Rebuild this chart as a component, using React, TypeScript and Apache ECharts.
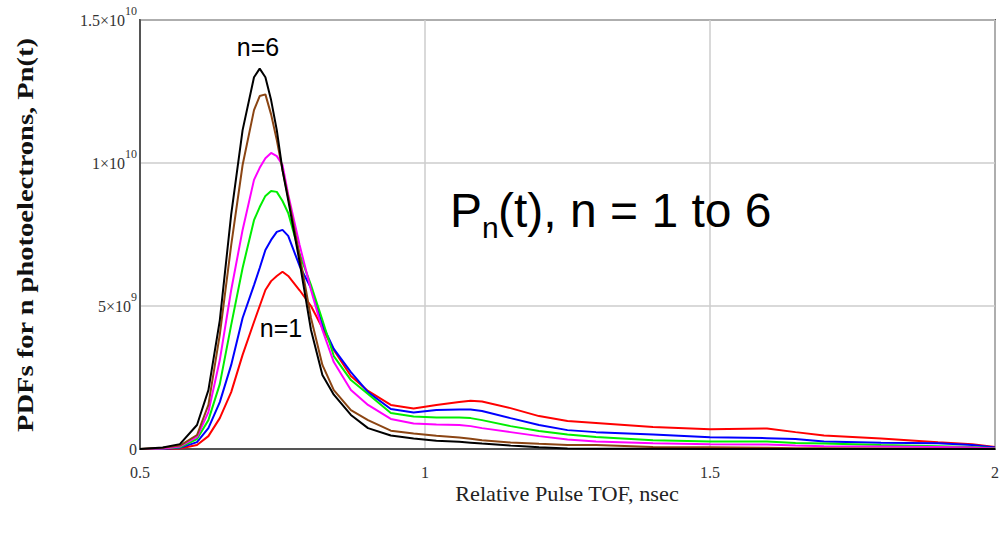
import React, { useEffect, useRef } from "react";
import * as echarts from "echarts";

const UNIT = 1e9;

// Relative pulse TOF (nsec)
const tof = [0.5, 0.54, 0.57, 0.6, 0.62, 0.64, 0.66, 0.68, 0.7, 0.71, 0.72, 0.73, 0.74, 0.75, 0.76, 0.78, 0.8, 0.82, 0.84, 0.87, 0.9, 0.94, 0.98, 1.02, 1.06, 1.08, 1.1, 1.15, 1.2, 1.25, 1.3, 1.4, 1.5, 1.6, 1.65, 1.7, 1.8, 1.9, 1.96, 2.0];

// PDFs in units of 1e9
const pdfN1 = [0, 0.01, 0.02, 0.14, 0.45, 1.08, 1.99, 3.29, 4.44, 5.0, 5.56, 5.87, 6.05, 6.2, 6.05, 5.55, 5.0, 4.23, 3.46, 2.55, 2.03, 1.54, 1.42, 1.54, 1.64, 1.69, 1.66, 1.43, 1.15, 0.98, 0.91, 0.77, 0.69, 0.72, 0.59, 0.47, 0.37, 0.24, 0.17, 0.07];
const pdfN2 = [0, 0.01, 0.04, 0.24, 0.73, 1.64, 2.94, 4.58, 5.73, 6.33, 6.96, 7.31, 7.59, 7.66, 7.45, 6.4, 5.63, 4.34, 3.5, 2.69, 1.99, 1.4, 1.28, 1.36, 1.38, 1.38, 1.33, 1.08, 0.84, 0.66, 0.59, 0.51, 0.41, 0.38, 0.35, 0.26, 0.22, 0.2, 0.14, 0.05];
const pdfN3 = [0, 0.02, 0.06, 0.35, 1.01, 2.27, 4.34, 6.33, 8.0, 8.46, 8.85, 9.02, 8.99, 8.67, 8.25, 6.82, 5.73, 4.51, 3.25, 2.41, 1.92, 1.26, 1.14, 1.1, 1.1, 1.08, 1.01, 0.8, 0.63, 0.51, 0.42, 0.31, 0.26, 0.26, 0.21, 0.19, 0.14, 0.1, 0.07, 0.03];
const pdfN4 = [0, 0.02, 0.09, 0.42, 1.29, 3.11, 5.56, 7.66, 9.41, 9.83, 10.17, 10.35, 10.24, 9.93, 8.9, 7.13, 5.56, 4.16, 3.04, 2.06, 1.54, 1.05, 0.89, 0.86, 0.84, 0.8, 0.73, 0.59, 0.45, 0.33, 0.26, 0.2, 0.17, 0.16, 0.12, 0.1, 0.09, 0.07, 0.05, 0.02];
const pdfN5 = [0, 0.04, 0.12, 0.49, 1.54, 4.0, 7.13, 9.93, 11.85, 12.34, 12.4, 11.7, 10.8, 9.75, 8.8, 6.78, 4.58, 2.94, 2.06, 1.36, 1.01, 0.64, 0.54, 0.46, 0.4, 0.36, 0.31, 0.23, 0.18, 0.14, 0.14, 0.07, 0.06, 0.04, 0.03, 0.03, 0.02, 0.01, 0.01, 0];
const pdfN6 = [0, 0.05, 0.17, 0.84, 2.06, 4.5, 8.2, 11.15, 13.0, 13.3, 13.0, 12.2, 11.15, 9.75, 8.7, 6.54, 4.16, 2.59, 1.9, 1.19, 0.73, 0.47, 0.37, 0.29, 0.25, 0.22, 0.19, 0.12, 0.06, 0.02, 0.01, 0.01, 0, 0, 0, 0, 0, 0, 0, 0];

const seriesNames = ["n=1", "n=2", "n=3", "n=4", "n=5", "n=6"];
const seriesValues = [pdfN1, pdfN2, pdfN3, pdfN4, pdfN5, pdfN6];
const seriesColors = ["#ff0000", "#0000ff", "#00ee00", "#ff00ff", "#8b4513", "#000000"];

const xTickValues = [0.5, 1, 1.5, 2];
const xTickLabels = ["0.5", "1", "1.5", "2"];
const yTickValues = [0, 5e9, 1e10, 1.5e10];
const yTickBase = ["0", "5×10", "1×10", "1.5×10"];
const yTickExp = ["", "9", "10", "10"];

const SERIF = "'Liberation Serif', 'Times New Roman', serif";
const SANS = "'Liberation Sans', Arial, sans-serif";

export default function App() {
  const ref = useRef<HTMLDivElement>(null);

  useEffect(() => {
    document.body.style.margin = "0";
    if (!ref.current) return;
    const chart = echarts.init(ref.current, undefined, { renderer: "svg" });

    const series = seriesValues.map((vals, i) => ({
      name: seriesNames[i],
      type: "line",
      data: tof.map((x, j) => [x, vals[j] * UNIT]),
      showSymbol: false,
      symbol: "none",
      lineStyle: { color: seriesColors[i], width: 2 },
      itemStyle: { color: seriesColors[i] },
      z: 2 + i,
    }));

    chart.setOption({
      animation: false,
      backgroundColor: "#ffffff",
      grid: {
        left: 140,
        right: 12,
        top: 20,
        bottom: 88,
        show: true,
        borderColor: "#555555",
        borderWidth: 2,
      },
      xAxis: {
        type: "value",
        min: 0.5,
        max: 2,
        interval: 0.5,
        axisLine: { show: true, onZero: false, lineStyle: { color: "#555555", width: 2 } },
        axisTick: { show: false },
        splitLine: { show: true, lineStyle: { color: "#cccccc", width: 1.5 } },
        axisLabel: {
          margin: 15,
          color: "#333333",
          fontFamily: SERIF,
          fontSize: 16,
          formatter: (v: number) => {
            const i = xTickValues.findIndex((t) => Math.abs(t - v) < 1e-9);
            return i >= 0 ? xTickLabels[i] : "";
          },
        },
      },
      yAxis: {
        type: "value",
        min: 0,
        max: 1.5e10,
        interval: 5e9,
        axisLine: { show: true, onZero: false, lineStyle: { color: "#555555", width: 2 } },
        axisTick: { show: false },
        splitLine: { show: true, lineStyle: { color: "#cccccc", width: 1.5 } },
        axisLabel: {
          margin: 3,
          color: "#333333",
          fontFamily: SERIF,
          fontSize: 16,
          formatter: (v: number) => {
            const i = yTickValues.findIndex((t) => Math.abs(t - v) < 1);
            if (i < 0) return "";
            return yTickExp[i] ? `{m|${yTickBase[i]}}{s|${yTickExp[i]}}` : `{m|${yTickBase[i]}}`;
          },
          rich: {
            m: { fontSize: 16, lineHeight: 34, fontFamily: SERIF, color: "#333333" },
            s: { fontSize: 12, lineHeight: 14, verticalAlign: "top", fontFamily: SERIF, color: "#333333", padding: [2, 0, 0, 0] },
          },
        },
      },
      series,
      graphic: [
        {
          type: "text",
          x: 258,
          y: 47,
          z: 100,
          style: { text: "n=6", fontSize: 25, fontFamily: SANS, fill: "#000", align: "center", verticalAlign: "middle" },
        },
        {
          type: "text",
          x: 281,
          y: 328,
          z: 100,
          style: { text: "n=1", fontSize: 25, fontFamily: SANS, fill: "#000", align: "center", verticalAlign: "middle" },
        },
        {
          type: "text",
          x: 450,
          y: 210,
          z: 100,
          style: { text: "P", fontSize: 48, fontFamily: SANS, fill: "#000", align: "left", verticalAlign: "middle" },
        },
        {
          type: "text",
          x: 482,
          y: 227,
          z: 100,
          style: { text: "n", fontSize: 30, fontFamily: SANS, fill: "#000", align: "left", verticalAlign: "middle" },
        },
        {
          type: "text",
          x: 498,
          y: 210,
          z: 100,
          style: { text: "(t), n = 1 to 6", fontSize: 48, fontFamily: SANS, fill: "#000", align: "left", verticalAlign: "middle" },
        },
        {
          type: "text",
          x: 567,
          y: 494,
          z: 100,
          scaleX: 1.06,
          style: { text: "Relative Pulse TOF, nsec", fontSize: 21, fontFamily: SERIF, fill: "#222", align: "center", verticalAlign: "middle" },
        },
        {
          type: "text",
          x: 25,
          y: 235,
          z: 100,
          rotation: Math.PI / 2,
          scaleX: 1.24,
          style: {
            text: "PDFs for n photoelectrons, Pn(t)",
            fontSize: 23,
            fontWeight: "bold",
            fontFamily: SERIF,
            fill: "#111",
            align: "center",
            verticalAlign: "middle",
          },
        },
      ],
    });

    return () => chart.dispose();
  }, []);

  return <div ref={ref} style={{ width: 1007, height: 537 }} />;
}
